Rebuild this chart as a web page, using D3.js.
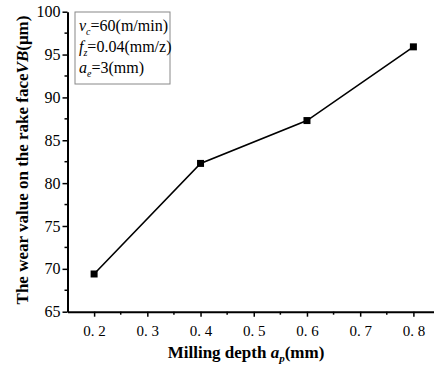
<!DOCTYPE html>
<html>
<head>
<meta charset="utf-8">
<script src="https://cdn.jsdelivr.net/npm/d3@7"></script>
<style>
  body { margin: 0; background: #fff; }
</style>
</head>
<body>
<div id="chart"></div>
<script>
// data
const depth = [0.2, 0.4, 0.6, 0.8];
const wear = [69.4, 82.3, 87.3, 95.9];
const xTicks = [0.2, 0.3, 0.4, 0.5, 0.6, 0.7, 0.8];
const yTicks = [65, 70, 75, 80, 85, 90, 95, 100];

const width = 434;
const height = 367;
const serif = "'Liberation Serif', 'Times New Roman', serif";

const svg = d3.select("#chart")
    .append("svg")
    .attr("width", width)
    .attr("height", height)
    .style("font-family", serif);

// scales
const x = d3.scaleLinear().domain([0.15, 0.85]).range([67.5, 440]);
const y = d3.scaleLinear().domain([65, 100]).range([311.7, 11.7]);

// minor ticks
const xMinor = d3.range(0.25, 0.85, 0.1);
const yMinor = d3.range(67.5, 100, 5);

svg.selectAll(".xminor")
    .data(xMinor)
    .enter().append("line")
    .attr("x1", d => x(d)).attr("x2", d => x(d))
    .attr("y1", y(65)).attr("y2", y(65) + 3)
    .attr("stroke", "#000").attr("stroke-width", 1.5);

svg.selectAll(".yminor")
    .data(yMinor)
    .enter().append("line")
    .attr("y1", d => y(d)).attr("y2", d => y(d))
    .attr("x1", x(0.15)).attr("x2", x(0.15) - 3)
    .attr("stroke", "#000").attr("stroke-width", 1.5);

// axes
const xAxis = svg.append("g")
    .attr("transform", `translate(0,${y(65)})`)
    .call(d3.axisBottom(x).tickValues(xTicks).tickSize(5).tickSizeOuter(0)
        .tickFormat(d => d3.format(".1f")(d).replace(".", ". ")))
    .attr("font-family", serif);
xAxis.select(".domain").attr("stroke-width", 2);
xAxis.selectAll(".tick line").attr("stroke-width", 1.5);
xAxis.selectAll(".tick text")
    .attr("font-size", 15).attr("dy", "1.1em").attr("fill", "#000")
    .style("font-family", serif);

const yAxis = svg.append("g")
    .attr("transform", `translate(${x(0.15)},0)`)
    .call(d3.axisLeft(y).tickValues(yTicks).tickSize(5).tickSizeOuter(0))
    .attr("font-family", serif);
yAxis.select(".domain").attr("stroke-width", 2);
yAxis.selectAll(".tick line").attr("stroke-width", 1.5);
yAxis.selectAll(".tick text")
    .attr("font-size", 16).attr("fill", "#000").attr("x", -7)
    .style("font-family", serif);

// line and markers
const line = d3.line()
    .x((d, i) => x(depth[i]))
    .y(d => y(d));

svg.append("path")
    .datum(wear)
    .attr("d", line)
    .attr("fill", "none")
    .attr("stroke", "#000")
    .attr("stroke-width", 1.6);

svg.selectAll(".pt")
    .data(wear)
    .enter().append("rect")
    .attr("x", (d, i) => x(depth[i]) - 3.5)
    .attr("y", d => y(d) - 3.5)
    .attr("width", 7).attr("height", 7)
    .attr("fill", "#000");

// legend box
svg.append("rect")
    .attr("x", 75).attr("y", 12)
    .attr("width", 95).attr("height", 72)
    .attr("fill", "#fff")
    .attr("stroke", "#888").attr("stroke-width", 1);

const legend = [
    { v: "v", s: "c", t: "=60(m/min)" },
    { v: "f", s: "z", t: "=0.04(mm/z)" },
    { v: "a", s: "e", t: "=3(mm)" }
];
legend.forEach((d, i) => {
    const t = svg.append("text")
        .attr("x", 79).attr("y", 31 + i * 21)
        .attr("font-size", 16)
        .style("font-family", serif);
    t.append("tspan").attr("font-style", "italic").text(d.v);
    t.append("tspan").attr("font-style", "italic").attr("font-size", 10).attr("dy", 4).text(d.s);
    t.append("tspan").attr("dy", -4).text(d.t);
});

// axis titles
const xt = svg.append("text")
    .attr("x", 246).attr("y", 358)
    .attr("text-anchor", "middle")
    .attr("font-size", 17).attr("font-weight", "bold")
    .style("font-family", serif);
xt.append("tspan").text("Milling depth ");
xt.append("tspan").attr("font-style", "italic").text("a");
xt.append("tspan").attr("font-style", "italic").attr("font-size", 11).attr("dy", 4).text("p");
xt.append("tspan").attr("dy", -4).text("(mm)");

const yt = svg.append("text")
    .attr("transform", "translate(28,160) rotate(-90)")
    .attr("text-anchor", "middle")
    .attr("font-size", 17).attr("font-weight", "bold")
    .style("font-family", serif);
yt.append("tspan").text("The wear value on the rake face");
yt.append("tspan").attr("font-style", "italic").text("VB");
yt.append("tspan").text("(\u03bcm)");
</script>
</body>
</html>
